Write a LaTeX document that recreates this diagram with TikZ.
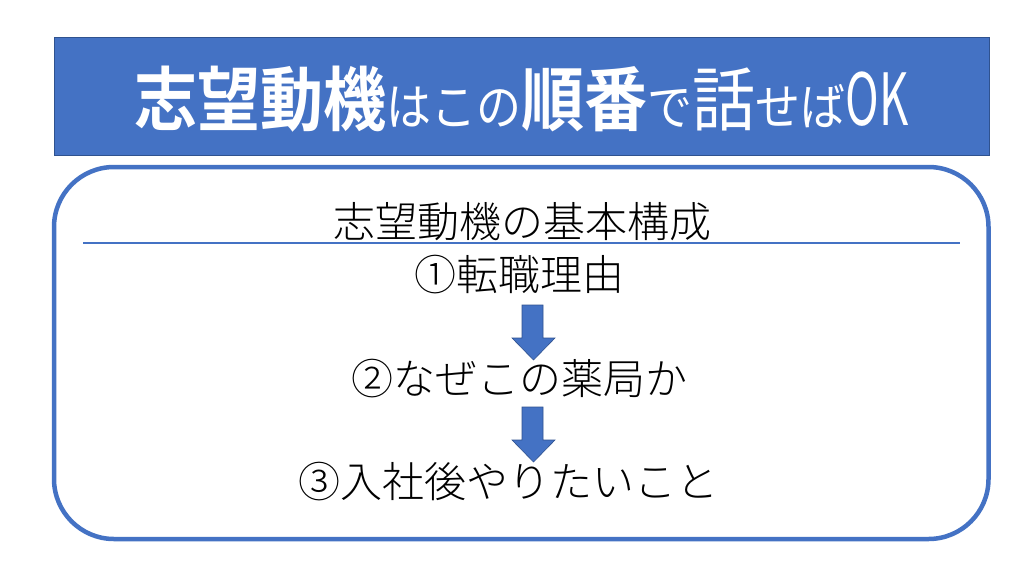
\documentclass[tikz,border=0pt]{standalone}
\usepackage{fontspec}
\usepackage{graphicx}
\setmainfont{Noto Sans CJK JP}
\newfontfamily\jpbold{Noto Sans CJK JP Bold}
\newfontfamily\jplight{Noto Sans CJK JP Light}
\definecolor{accent}{HTML}{4472C4}
\definecolor{accentdark}{HTML}{2F528F}
\tikzset{
  banner/.style={fill=accent, draw=accentdark, line width=1pt},
  panel/.style={draw=accent, line width=4.5pt, rounded corners=60pt},
  rule/.style={draw=accent, line width=2.2pt},
  bodytext/.style={inner sep=0pt, anchor=base, font=\jplight\fontsize{42}{42}\selectfont, text=black},
  blockarrow/.style={fill=accent, draw=accentdark, line width=0.6pt},
}
\newcommand{\ttlbold}[1]{{\jpbold\fontsize{70}{70}\selectfont #1}}
\newcommand{\ttlreg}[1]{{\fontsize{70}{70}\selectfont #1}}
\newcommand{\ttlsmall}[1]{{\fontsize{50}{50}\selectfont #1}}
\begin{document}
\begin{tikzpicture}[x=1pt,y=-1pt]
\useasboundingbox (0,0) rectangle (1024,576);
\fill[white] (0,0) rectangle (1024,576);
% banner
\path[banner] (54,37) rectangle (989,155);
\node[inner sep=0pt, anchor=base, text=white] (title) at (521.5,125)
  {\scalebox{0.9}[1]{\ttlbold{志望動機}\ttlsmall{はこの}\ttlbold{順番}\ttlsmall{で}\ttlreg{話}\ttlsmall{せば}\scalebox{0.7}[1]{\fontsize{72}{72}\selectfont OK}}};
% panel
\path[panel] (54,167) rectangle (988.5,539);
\path[rule] (83,243) -- (960,243);
\node[bodytext] (head) at (522.5,237) {志望動機の基本構成};
\node[bodytext] (s1) at (519,290) {①転職理由};
\node[bodytext] (s2) at (519.5,394) {②なぜこの薬局か};
\node[bodytext] (s3) at (508,497) {③入社後やりたいこと};
% block arrows
\path[blockarrow] (522,305) -- (543,305) -- (543,338) -- (555,338) -- (533.5,360) -- (512,338) -- (522,338) -- cycle;
\path[blockarrow] (522,407) -- (543,407) -- (543,440) -- (555,440) -- (533.5,462) -- (512,440) -- (522,440) -- cycle;
\end{tikzpicture}
\end{document}
